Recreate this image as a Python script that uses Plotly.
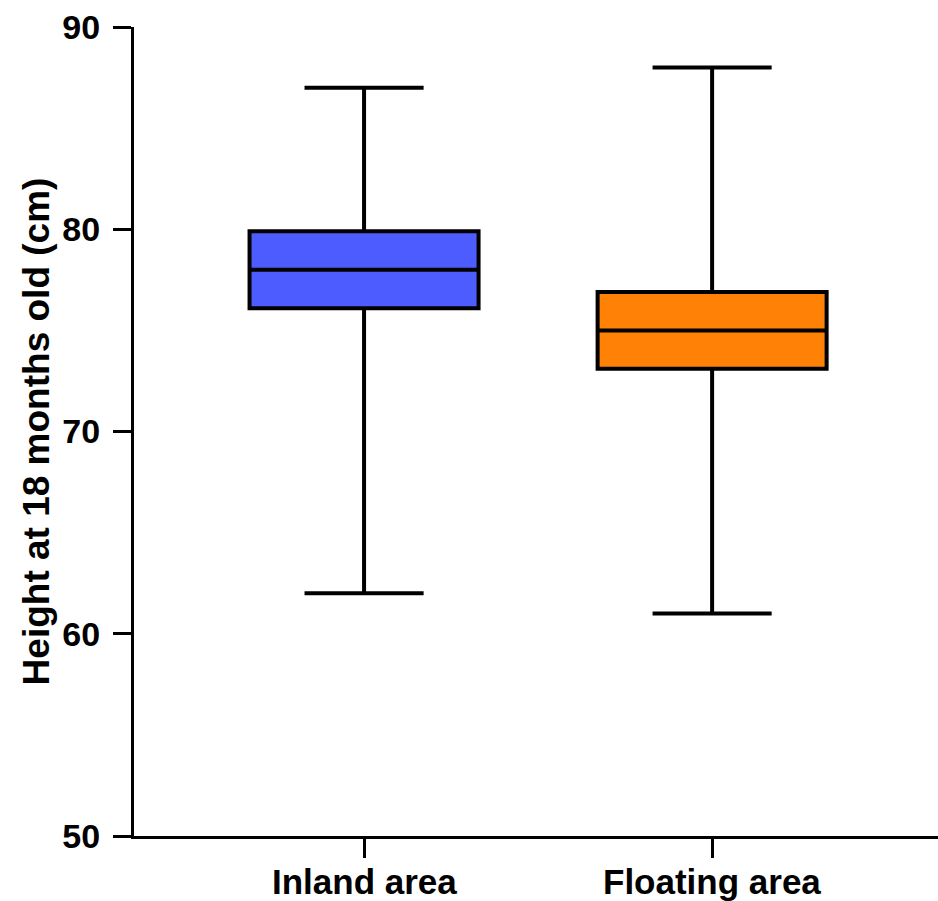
import plotly.graph_objects as go

categories = ["Inland area", "Floating area"]
lower_whisker = [62, 61]
q1 = [76.1, 73.1]
median = [78, 75]
q3 = [79.9, 76.9]
upper_whisker = [87, 88]
colors = ["#4c5cff", "#ff8207"]
y_ticks = [50, 60, 70, 80, 90]

fig = go.Figure()
for i, cat in enumerate(categories):
    fig.add_trace(go.Box(
        x=[cat],
        q1=[q1[i]], median=[median[i]], q3=[q3[i]],
        lowerfence=[lower_whisker[i]], upperfence=[upper_whisker[i]],
        fillcolor=colors[i],
        line=dict(color="black", width=4),
        width=0.658,
        whiskerwidth=0.52,
        boxpoints=False,
        showlegend=False,
    ))

font_family = "Liberation Sans, Arial, sans-serif"

# category labels placed below the axis ticks
for cat in categories:
    fig.add_annotation(
        x=cat, xref="x", y=0, yref="paper",
        text=cat, showarrow=False,
        xanchor="center", yanchor="top", yshift=-24,
        font=dict(size=35, family=font_family, color="black", weight="bold"),
    )

fig.update_layout(
    width=938, height=901,
    margin=dict(l=134, r=0, t=27, b=65),
    plot_bgcolor="white", paper_bgcolor="white",
    font=dict(family=font_family, color="black"),
    xaxis=dict(
        type="category",
        categoryorder="array", categoryarray=categories,
        range=[-0.661, 1.649],
        automargin=False,
        showline=True, linecolor="black", linewidth=3,
        ticks="outside", ticklen=19, tickwidth=3, tickcolor="black",
        showticklabels=False,
        showgrid=False, zeroline=False,
    ),
    yaxis=dict(
        range=[50, 90],
        tickvals=y_ticks,
        automargin=False,
        showline=True, linecolor="black", linewidth=3,
        ticks="outside", ticklen=18, tickwidth=3, tickcolor="black",
        tickfont=dict(size=34, family=font_family, color="black", weight="bold"),
        showgrid=False, zeroline=False,
        ticklabelstandoff=6,
        title=dict(text="Height at 18 months old (cm)",
                   font=dict(size=37, family=font_family, color="black", weight="bold"),
                   standoff=2),
    ),
)

fig.write_html("out.html",
               config={"displayModeBar": False},
               post_script="document.body.style.margin='0';document.body.style.overflow='hidden';")
